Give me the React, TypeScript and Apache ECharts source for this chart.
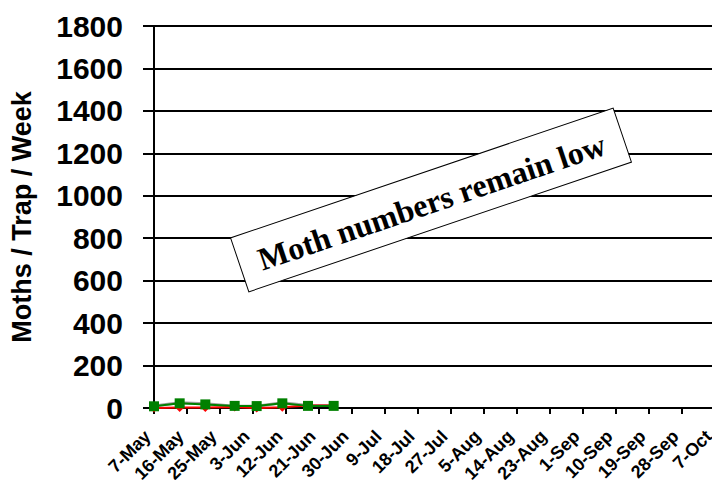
import React, { useEffect, useRef } from "react";
import * as echarts from "echarts";

const xTickLabels = [
  "7-May", "16-May", "25-May", "3-Jun", "12-Jun", "21-Jun", "30-Jun", "9-Jul", "18-Jul",
  "27-Jul", "5-Aug", "14-Aug", "23-Aug", "1-Sep", "10-Sep", "19-Sep", "28-Sep", "7-Oct",
];
// sample dates as days after 7-May
const sampleDays = [0, 7, 14, 22, 28, 35, 42, 49];
const grayValues = [10, 25, 20, 8, 8, 25, 12, 12];
const redValues = [0, 2, 2, 5, 0, 3, 12, 12];
const greenValues = [8, 22, 17, 10, 9, 22, 10, 10];
const yTicks = [0, 200, 400, 600, 800, 1000, 1200, 1400, 1600, 1800];
const annotation = "Moth numbers remain low";
const yName = "Moths / Trap / Week";

const pair = (vals: number[]) => sampleDays.map((d, i) => [d, vals[i]]);

export default function App() {
  const ref = useRef<HTMLDivElement>(null);
  useEffect(() => {
    if (!ref.current) return;
    const chart = echarts.init(ref.current, null, { renderer: "svg" });
    const angle = (18.7 * Math.PI) / 180;
    chart.setOption({
      animation: false,
      backgroundColor: "#fff",
      grid: {
        left: 154,
        top: 26,
        bottom: 72,
        right: -3,
        containLabel: false,
        outerBoundsMode: "none",
      },
      xAxis: {
        type: "value",
        min: 0,
        max: 153,
        interval: 9,
        axisLine: { show: true, onZero: false, lineStyle: { color: "#000", width: 2 } },
        axisTick: { show: true, length: 6, lineStyle: { color: "#000", width: 2 } },
        splitLine: { show: false },
        axisLabel: {
          rotate: 45,
          margin: 19,
          padding: [0, 9, 0, 0],
          fontFamily: "Liberation Sans, Arial, sans-serif",
          fontWeight: "bold",
          fontSize: 18,
          color: "#000",
          showMaxLabel: true,
          showMinLabel: true,
          hideOverlap: false,
          formatter: (v: number) => xTickLabels[Math.round(v / 9)] ?? "",
        },
      },
      yAxis: {
        type: "value",
        min: yTicks[0],
        max: yTicks[yTicks.length - 1],
        interval: 200,
        name: yName,
        nameLocation: "middle",
        nameGap: 119,
        nameTextStyle: {
          fontFamily: "Liberation Sans, Arial, sans-serif",
          fontWeight: "bold",
          fontSize: 27,
          color: "#000",
        },
        axisLine: { show: true, lineStyle: { color: "#000", width: 2 } },
        axisTick: { show: true, length: 11, lineStyle: { color: "#000", width: 2 } },
        splitLine: { show: true, lineStyle: { color: "#000", width: 2 } },
        axisLabel: {
          margin: 31,
          fontFamily: "Liberation Sans, Arial, sans-serif",
          fontWeight: "bold",
          fontSize: 30,
          color: "#000",
          formatter: (v: number) => String(v),
        },
      },
      series: [
        {
          type: "line",
          data: pair(grayValues),
          symbol: "none",
          lineStyle: { color: "#a0a0a0", width: 3 },
          z: 2,
        },
        {
          type: "line",
          data: pair(redValues),
          symbol: "diamond",
          symbolSize: 9,
          itemStyle: { color: "#ff0000" },
          lineStyle: { color: "#ff0000", width: 2 },
          z: 3,
        },
        {
          type: "line",
          data: pair(greenValues),
          symbol: "rect",
          symbolSize: 10,
          itemStyle: { color: "#008000" },
          lineStyle: { color: "#008000", width: 2 },
          z: 4,
        },
      ],
      graphic: [
        {
          type: "group",
          x: 431,
          y: 200,
          rotation: angle,
          z: 100,
          children: [
            {
              type: "rect",
              z: 100,
              shape: { x: -202, y: -28.5, width: 404, height: 57 },
              style: { fill: "#ffffff", stroke: "#000", lineWidth: 1 },
            },
            {
              type: "text",
              z: 101,
              x: 0,
              y: 2,
              style: {
                text: annotation,
                fontFamily: "Liberation Serif, Times New Roman, serif",
                fontWeight: "bold",
                fontSize: 32,
                fill: "#000",
                align: "center",
                verticalAlign: "middle",
              },
            },
          ],
        },
      ],
    });
    return () => chart.dispose();
  }, []);
  return (
    <div
      ref={ref}
      style={{ position: "absolute", left: 0, top: 0, width: 712, height: 480 }}
    />
  );
}
